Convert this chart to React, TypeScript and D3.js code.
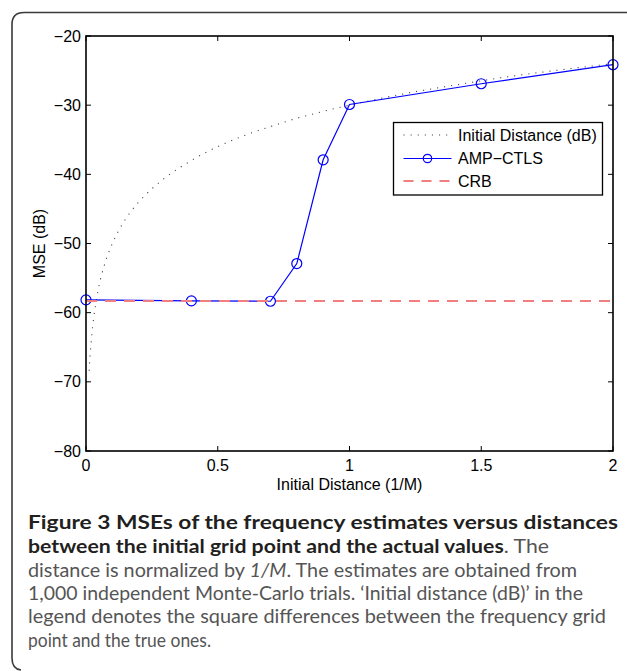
import React from 'react';
import * as d3 from 'd3';

// ---- data ----
const ampX = [0, 0.4, 0.7, 0.8, 0.9, 1.0, 1.5, 2.0];
const ampY = [-58.15, -58.3, -58.35, -52.9, -37.9, -29.9, -26.9, -24.15];

const crbX = [0, 2];
const crbY = [-58.3, -58.3];

const initX = [0.012, 0.015, 0.02, 0.03, 0.04, 0.05, 0.07, 0.1, 0.13, 0.17, 0.22, 0.3, 0.4, 0.5, 0.6, 0.7, 0.8, 0.9, 1.0, 1.2, 1.4, 1.6, 1.8, 2.0];
const initY = [-68.4, -66.5, -64.0, -60.5, -58.0, -56.0, -53.1, -50.0, -47.7, -45.4, -43.2, -40.5, -38.0, -36.0, -34.4, -33.1, -31.9, -30.9, -30.0, -28.4, -27.1, -25.9, -24.9, -24.0];

const xTicks = [0, 0.5, 1, 1.5, 2];
const xTickLabels = ['0', '0.5', '1', '1.5', '2'];
const yTicks = [-80, -70, -60, -50, -40, -30, -20];
const yTickLabels = ['\u221280', '\u221270', '\u221260', '\u221250', '\u221240', '\u221230', '\u221220'];

const legendLabels = ['Initial Distance (dB)', 'AMP\u2212CTLS', 'CRB'];
const xAxisTitle = 'Initial Distance (1/M)';
const yAxisTitle = 'MSE (dB)';

// ---- layout ----
const W = 627;
const H = 671;
const L = 86, R = 613, T = 36, B = 451;
const TICK = 5;
const FONT = "'Liberation Sans', Arial, Helvetica, sans-serif";
const CAP_FONT = "Lato, 'Open Sans', sans-serif";

export default function App() {
  const x = d3.scaleLinear().domain([0, 2]).range([L, R]);
  const y = d3.scaleLinear().domain([-80, -20]).range([B, T]);

  const line = d3.line<[number, number]>().x(d => x(d[0])).y(d => y(d[1]));
  const smooth = d3.line<[number, number]>().x(d => x(d[0])).y(d => y(d[1])).curve(d3.curveMonotoneX);

  const ampPts: [number, number][] = ampX.map((v, i) => [v, ampY[i]]);
  const crbPts: [number, number][] = crbX.map((v, i) => [v, crbY[i]]);
  const initPts: [number, number][] = initX.map((v, i) => [v, initY[i]]);

  const blue = '#0000ff';
  const red = '#f27f7f';
  const dotCol = '#444';

  const lgX = 393.5, lgY = 122.5, lgW = 209, lgH = 72.5;
  const rows = [135, 158.5, 181];
  const s0 = 403.5, s1 = 451.5;
  const txtX = 458;

  return (
    <svg width={W} height={H} style={{ position: 'absolute', left: 0, top: 0, display: 'block', background: '#fff' }}>
      {/* outer frame */}
      <path d={`M ${W} 12.5 H 24 Q 12 12.5 12 24.5 V 658 Q 12 669 21 670`} fill="none" stroke="#3a3a3a" strokeWidth={1.6} />

      <defs>
        <clipPath id="plotclip">
          <rect x={L} y={T} width={R - L} height={B - T} />
        </clipPath>
      </defs>

      {/* series */}
      <g clipPath="url(#plotclip)">
        <path d={smooth(initPts) || ''} fill="none" stroke={dotCol} strokeWidth={1.1} strokeDasharray="1.1 6" />
      </g>
      <path d={line(ampPts) || ''} fill="none" stroke={blue} strokeWidth={1.2} />
      {ampPts.map((p, i) => (
        <circle key={i} cx={x(p[0])} cy={y(p[1])} r={5} fill="none" stroke={blue} strokeWidth={1.2} />
      ))}
      <path d={line(crbPts) || ''} fill="none" stroke={red} strokeWidth={2} strokeDasharray="11 8" />

      {/* axes box */}
      <rect x={L} y={T} width={R - L} height={B - T} fill="none" stroke="#000" strokeWidth={1.6} />
      {xTicks.map((t, i) => (
        <g key={'xt' + i}>
          <line x1={x(t)} x2={x(t)} y1={B} y2={B - TICK} stroke="#000" strokeWidth={1} />
          <line x1={x(t)} x2={x(t)} y1={T} y2={T + TICK} stroke="#000" strokeWidth={1} />
          <text x={x(t)} y={471} textAnchor="middle" fontFamily={FONT} fontSize={16} fill="#000">{xTickLabels[i]}</text>
        </g>
      ))}
      {yTicks.map((t, i) => (
        <g key={'yt' + i}>
          <line x1={L} x2={L + TICK} y1={y(t)} y2={y(t)} stroke="#000" strokeWidth={1} />
          <line x1={R} x2={R - TICK} y1={y(t)} y2={y(t)} stroke="#000" strokeWidth={1} />
          <text x={81} y={y(t)} dy="0.35em" textAnchor="end" fontFamily={FONT} fontSize={16} fill="#000">{yTickLabels[i]}</text>
        </g>
      ))}
      <text x={(L + R) / 2} y={490} textAnchor="middle" fontFamily={FONT} fontSize={16} fill="#000">{xAxisTitle}</text>
      <text transform={`translate(45, ${(T + B) / 2}) rotate(-90)`} textAnchor="middle" fontFamily={FONT} fontSize={16} fill="#000">{yAxisTitle}</text>

      {/* legend */}
      <rect x={lgX} y={lgY} width={lgW} height={lgH} fill="#fff" stroke="#000" strokeWidth={1.3} />
      <line x1={s0} x2={s1} y1={rows[0]} y2={rows[0]} stroke={dotCol} strokeWidth={1.1} strokeDasharray="1.1 6" />
      <line x1={s0} x2={s1} y1={rows[1]} y2={rows[1]} stroke={blue} strokeWidth={1.2} />
      <circle cx={(s0 + s1) / 2} cy={rows[1]} r={4.2} fill="none" stroke={blue} strokeWidth={1.2} />
      <line x1={s0} x2={s1} y1={rows[2]} y2={rows[2]} stroke={red} strokeWidth={2} strokeDasharray="10 8" />
      {legendLabels.map((lab, i) => (
        <text key={'lg' + i} x={txtX} y={rows[i]} dy="0.36em" fontFamily={FONT} fontSize={16} fill="#000">{lab}</text>
      ))}

      {/* caption */}
      <g fontFamily={CAP_FONT} fontSize={18.5}>
        <text x={28} y={529} textLength={590} lengthAdjust="spacingAndGlyphs" fontWeight={700} fill="#231f20">
          Figure 3 MSEs of the frequency estimates versus distances
        </text>
        <text x={28} y={553} textLength={521} lengthAdjust="spacingAndGlyphs" fill="#555">
          <tspan fontWeight={700} fill="#231f20">between the initial grid point and the actual values</tspan>
          <tspan>. The</tspan>
        </text>
        <text x={28} y={576.5} textLength={549} lengthAdjust="spacingAndGlyphs" fill="#555">
          <tspan>distance is normalized by </tspan>
          <tspan fontStyle="italic">1/M</tspan>
          <tspan>. The estimates are obtained from</tspan>
        </text>
        <text x={28} y={600} textLength={555} lengthAdjust="spacingAndGlyphs" fill="#555">
          1,000 independent Monte-Carlo trials. {'\u2018'}Initial distance (dB){'\u2019'} in the
        </text>
        <text x={28} y={623.3} textLength={578} lengthAdjust="spacingAndGlyphs" fill="#555">
          legend denotes the square differences between the frequency grid
        </text>
        <text x={28} y={646.7} textLength={183} lengthAdjust="spacingAndGlyphs" fill="#555">
          point and the true ones.
        </text>
      </g>
    </svg>
  );
}
